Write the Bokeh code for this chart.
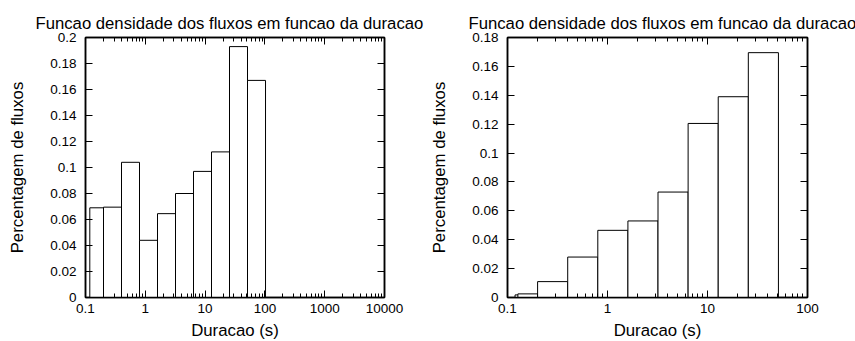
from bokeh.plotting import figure
from bokeh.layouts import row
from bokeh.models import Range1d, LogAxis, LinearAxis, FixedTicker, LogTicker
from bokeh.embed import file_html
from bokeh.resources import INLINE

# Flow duration histograms (log-2 bins), fraction of flows per bin
left_lo = [0.118, 0.2, 0.4, 0.8, 1.6, 3.2, 6.4, 12.8, 25.6, 51.2]
left_hi = [0.2, 0.4, 0.8, 1.6, 3.2, 6.4, 12.8, 25.6, 51.2, 102.4]
left_pct = [0.069, 0.0695, 0.104, 0.044, 0.0645, 0.080, 0.097, 0.112, 0.193, 0.167]

right_lo = [0.119, 0.127, 0.2, 0.4, 0.8, 1.6, 3.2, 6.4, 12.8, 25.6]
right_hi = [0.2, 0.2, 0.4, 0.8, 1.6, 3.2, 6.4, 12.8, 25.6, 51.2]
right_pct = [0.0018, 0.0025, 0.011, 0.028, 0.0465, 0.053, 0.073, 0.1205, 0.139, 0.1695]

title_text = "Funcao densidade dos fluxos em funcao da duracao"
x_label = "Duracao (s)"
y_label = "Percentagem de fluxos"

left_xticks = [0.1, 1, 10, 100, 1000, 10000]
left_xlabels = ["0.1", "1", "10", "100", "1000", "10000"]
left_yticks = [0, 0.02, 0.04, 0.06, 0.08, 0.1, 0.12, 0.14, 0.16, 0.18, 0.2]
left_ylabels = ["0", "0.02", "0.04", "0.06", "0.08", "0.1", "0.12", "0.14", "0.16", "0.18", "0.2"]

right_xticks = [0.1, 1, 10, 100]
right_xlabels = ["0.1", "1", "10", "100"]
right_yticks = [0, 0.02, 0.04, 0.06, 0.08, 0.1, 0.12, 0.14, 0.16, 0.18]
right_ylabels = ["0", "0.02", "0.04", "0.06", "0.08", "0.1", "0.12", "0.14", "0.16", "0.18"]

FONT = "Liberation Sans"


def style_axis(ax, show_labels, minor):
    ax.axis_line_color = "black"
    ax.axis_line_width = 1.5
    ax.major_tick_line_color = "black"
    ax.major_tick_in = 7
    ax.major_tick_out = 0
    if minor:
        ax.minor_tick_line_color = "black"
        ax.minor_tick_in = 4
        ax.minor_tick_out = 0
    else:
        ax.minor_tick_line_color = None
    ax.major_label_text_font = FONT
    if show_labels:
        ax.major_label_text_color = "black"
        ax.major_label_text_font_size = "13.5px"
    else:
        # mirrored axis: ticks only
        ax.major_label_text_color = None
        ax.major_label_text_font_size = "1px"
        ax.major_label_standoff = 0
    ax.axis_label_text_font = FONT
    ax.axis_label_text_font_size = "16.8px"
    ax.axis_label_text_font_style = "normal"
    ax.axis_label_text_color = "black"


def make_panel(lo, hi, pct, xmax, ymax, xticks, xlabels, yticks, ylabels,
               fw, bl, br, title_offset):
    p = figure(x_axis_type="log", frame_width=fw, frame_height=260,
               x_range=Range1d(0.1, xmax), y_range=Range1d(0, ymax),
               output_backend="svg", toolbar_location=None,
               min_border_left=bl, min_border_right=br,
               min_border_top=37, min_border_bottom=44)
    p.grid.visible = False
    p.background_fill_color = "white"
    p.border_fill_color = "white"
    p.outline_line_color = "black"
    p.outline_line_width = 1.5

    p.title.text = title_text
    p.title.align = "left"
    p.title.offset = title_offset
    p.title.text_font = FONT
    p.title.text_font_size = "16.7px"
    p.title.text_font_style = "normal"
    p.title.text_color = "black"

    p.quad(left=lo, right=hi, bottom=0, top=pct,
           fill_color="white", line_color="black", line_width=1)

    xa = p.xaxis[0]
    xa.ticker = LogTicker(num_minor_ticks=10)
    xa.major_label_overrides = {v: s for v, s in zip(xticks, xlabels)}
    xa.axis_label = x_label
    style_axis(xa, True, True)
    xa.major_label_standoff = 6
    xa.axis_label_standoff = 5

    ya = p.yaxis[0]
    ya.ticker = FixedTicker(ticks=yticks)
    ya.major_label_overrides = {v: s for v, s in zip(yticks, ylabels)}
    ya.axis_label = y_label
    style_axis(ya, True, False)
    ya.major_label_standoff = 9
    ya.axis_label_standoff = 20

    top = LogAxis(ticker=LogTicker(num_minor_ticks=10))
    style_axis(top, False, True)
    p.add_layout(top, "above")

    right = LinearAxis(ticker=FixedTicker(ticks=yticks))
    style_axis(right, False, False)
    p.add_layout(right, "right")
    return p


p1 = make_panel(left_lo, left_hi, left_pct, 10000, 0.2,
                left_xticks, left_xlabels, left_yticks, left_ylabels,
                299, 85, 43, -50)
p2 = make_panel(right_lo, right_hi, right_pct, 100, 0.18,
                right_xticks, right_xlabels, right_yticks, right_ylabels,
                300, 75, 53, -39)

layout = row(p1, p2)
open("out.html", "w").write(file_html(layout, INLINE))
